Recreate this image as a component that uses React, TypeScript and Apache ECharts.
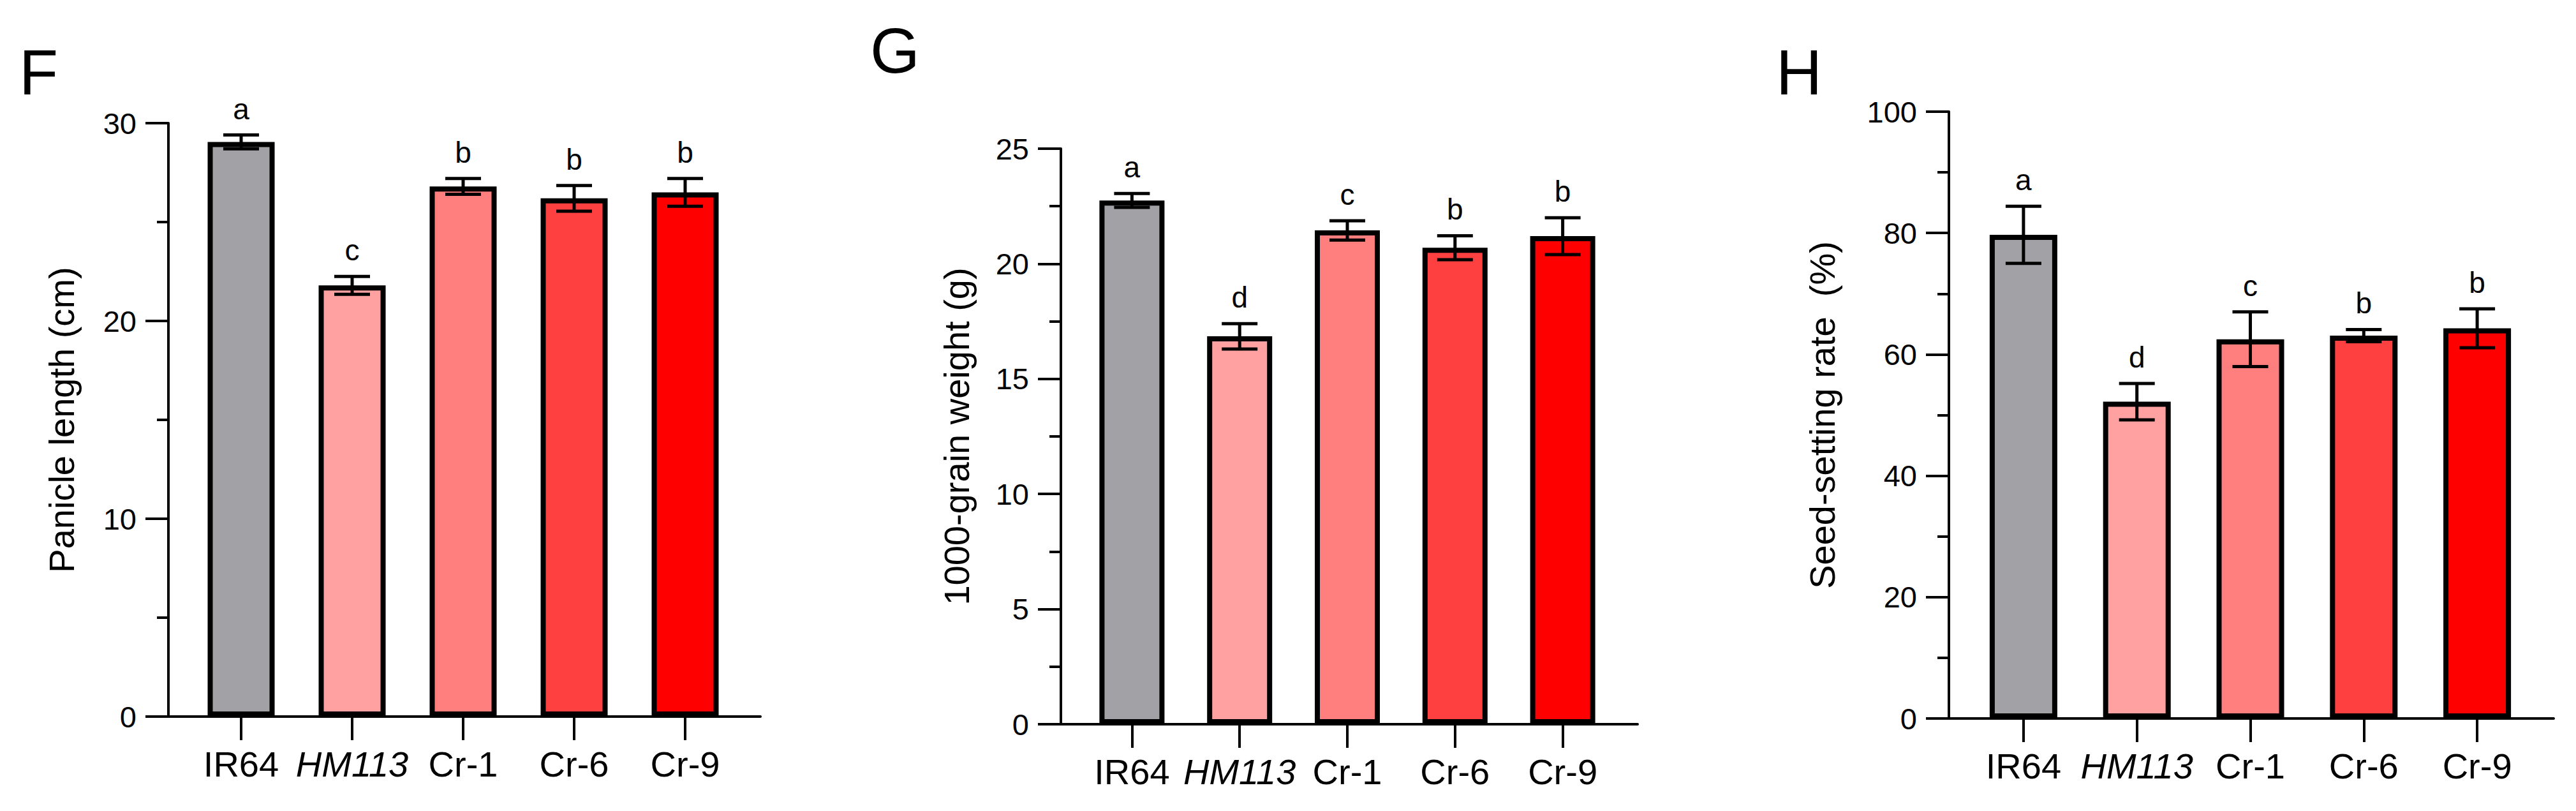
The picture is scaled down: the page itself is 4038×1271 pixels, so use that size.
import React, { useEffect, useRef } from "react";
import * as echarts from "echarts";

const categories = ["IR64", "HM113", "Cr-1", "Cr-6", "Cr-9"];
const barColors = ["#A2A1A6", "#FFA1A1", "#FF7F7F", "#FF4040", "#FF0000"];

const panicleMean = [29.05, 21.8, 26.8, 26.2, 26.5];
const panicleErr = [0.35, 0.45, 0.4, 0.65, 0.7];
const panicleLetters = ["a", "c", "b", "b", "b"];

const grainMean = [22.75, 16.85, 21.45, 20.7, 21.2];
const grainErr = [0.3, 0.55, 0.42, 0.52, 0.8];
const grainLetters = ["a", "d", "c", "b", "b"];

const seedMean = [79.7, 52.2, 62.5, 63.1, 64.3];
const seedErr = [4.7, 3.0, 4.5, 1.0, 3.2];
const seedLetters = ["a", "d", "c", "b", "b"];

const FONT = "Liberation Sans, Arial, sans-serif";

const panels = [
  {
    label: "F", lx: 30, ly: 121,
    name: "Panicle length (cm)", nameGap: 140,
    max: 30, interval: 10,
    outer: { left: 264, top: 193, width: 928, height: 930 },
    inner: { left: 291, width: 870 },
    barWidth: 105,
    mean: panicleMean, err: panicleErr, letters: panicleLetters,
  },
  {
    label: "G", lx: 1364, ly: 87,
    name: "1000-grain weight (g)", nameGap: 136,
    max: 25, interval: 5,
    outer: { left: 1663, top: 233, width: 904, height: 902 },
    inner: { left: 1690, width: 844 },
    barWidth: 102,
    mean: grainMean, err: grainErr, letters: grainLetters,
  },
  {
    label: "H", lx: 2784, ly: 121,
    name: "Seed-setting rate  (%)", nameGap: 171,
    max: 100, interval: 20,
    outer: { left: 3055, top: 175, width: 948, height: 951 },
    inner: { left: 3083, width: 889 },
    barWidth: 106,
    mean: seedMean, err: seedErr, letters: seedLetters,
  },
];

function buildOption() {
  const grid: any[] = [];
  const xAxis: any[] = [];
  const yAxis: any[] = [];
  const series: any[] = [];
  const graphic: any[] = [];
  const axisLineStyle = { color: "#000", width: 4 };

  panels.forEach((p, k) => {
    const go = k * 2;
    const gi = k * 2 + 1;
    grid.push({ left: p.outer.left, top: p.outer.top, width: p.outer.width, height: p.outer.height });
    grid.push({ left: p.inner.left, top: p.outer.top, width: p.inner.width, height: p.outer.height });

    // outer grid: y axis with ticks and the full-length x axis line
    xAxis.push({
      type: "value", gridIndex: go, min: 0, max: 1,
      axisLine: { show: true, lineStyle: axisLineStyle },
      axisTick: { show: false }, axisLabel: { show: false }, splitLine: { show: false },
    });
    yAxis.push({
      type: "value", gridIndex: go, min: 0, max: p.max, interval: p.interval,
      name: p.name, nameLocation: "middle", nameGap: p.nameGap,
      nameTextStyle: { fontSize: 56, fontFamily: FONT, color: "#000" },
      axisLine: { show: true, lineStyle: axisLineStyle },
      axisTick: { show: true, length: 36, lineStyle: axisLineStyle },
      minorTick: { show: true, splitNumber: 2, length: 18, lineStyle: axisLineStyle },
      axisLabel: { fontSize: 47, fontFamily: FONT, color: "#000", margin: 50 },
      splitLine: { show: false },
    });

    // inner grid: categories with bars
    xAxis.push({
      type: "category", gridIndex: gi, data: categories,
      axisLine: { show: false },
      axisTick: { show: true, alignWithLabel: true, length: 37, lineStyle: axisLineStyle },
      axisLabel: {
        margin: 46, interval: 0,
        formatter: (v: string) => (v === "HM113" ? "{it|" + v + "}" : "{n|" + v + "}"),
        rich: {
          it: { fontSize: 56, fontStyle: "italic", fontFamily: FONT, color: "#000" },
          n: { fontSize: 56, fontFamily: FONT, color: "#000" },
        },
      },
      splitLine: { show: false },
    });
    yAxis.push({ type: "value", gridIndex: gi, min: 0, max: p.max, show: false, splitLine: { show: false } });

    series.push({
      type: "bar", xAxisIndex: gi, yAxisIndex: gi,
      barWidth: p.barWidth,
      data: p.mean.map((v, i) => ({ value: v, itemStyle: { color: barColors[i] } })),
      itemStyle: { borderColor: "#000", borderWidth: 8 },
      z: 2,
    });

    const letters = p.letters;
    series.push({
      type: "custom", xAxisIndex: gi, yAxisIndex: gi, z: 5,
      data: p.mean.map((v, i) => [i, v, p.err[i]]),
      encode: { x: 0, y: 1 },
      renderItem: (params: any, api: any) => {
        const i = api.value(0);
        const m = api.value(1);
        const e = api.value(2);
        const pt = api.coord([i, m + e]);
        const pb = api.coord([i, m - e]);
        const hw = 28;
        const ls = { stroke: "#000", lineWidth: 5 };
        return {
          type: "group",
          children: [
            { type: "line", shape: { x1: pt[0], y1: pt[1], x2: pb[0], y2: pb[1] }, style: ls },
            { type: "line", shape: { x1: pt[0] - hw, y1: pt[1], x2: pt[0] + hw, y2: pt[1] }, style: ls },
            { type: "line", shape: { x1: pb[0] - hw, y1: pb[1], x2: pb[0] + hw, y2: pb[1] }, style: ls },
            {
              type: "text", x: pt[0], y: pt[1] - 18,
              style: {
                text: letters[params.dataIndex], fontSize: 46, fontFamily: FONT, fill: "#000",
                align: "center", verticalAlign: "bottom",
              },
            },
          ],
        };
      },
    });

    graphic.push({
      type: "text", left: p.lx, top: p.ly - 58,
      style: { text: p.label, fontSize: 100, fontFamily: FONT, fill: "#000" },
    });
  });

  return { animation: false, backgroundColor: "#fff", grid, xAxis, yAxis, series, graphic };
}

export default function App() {
  const ref = useRef<HTMLDivElement>(null);
  useEffect(() => {
    if (!ref.current) return;
    const chart = echarts.init(ref.current, undefined, { renderer: "svg" });
    chart.setOption(buildOption());
    return () => chart.dispose();
  }, []);
  return (
    <div
      ref={ref}
      style={{ position: "absolute", left: 0, top: 0, width: 4038, height: 1271, background: "#fff" }}
    />
  );
}
